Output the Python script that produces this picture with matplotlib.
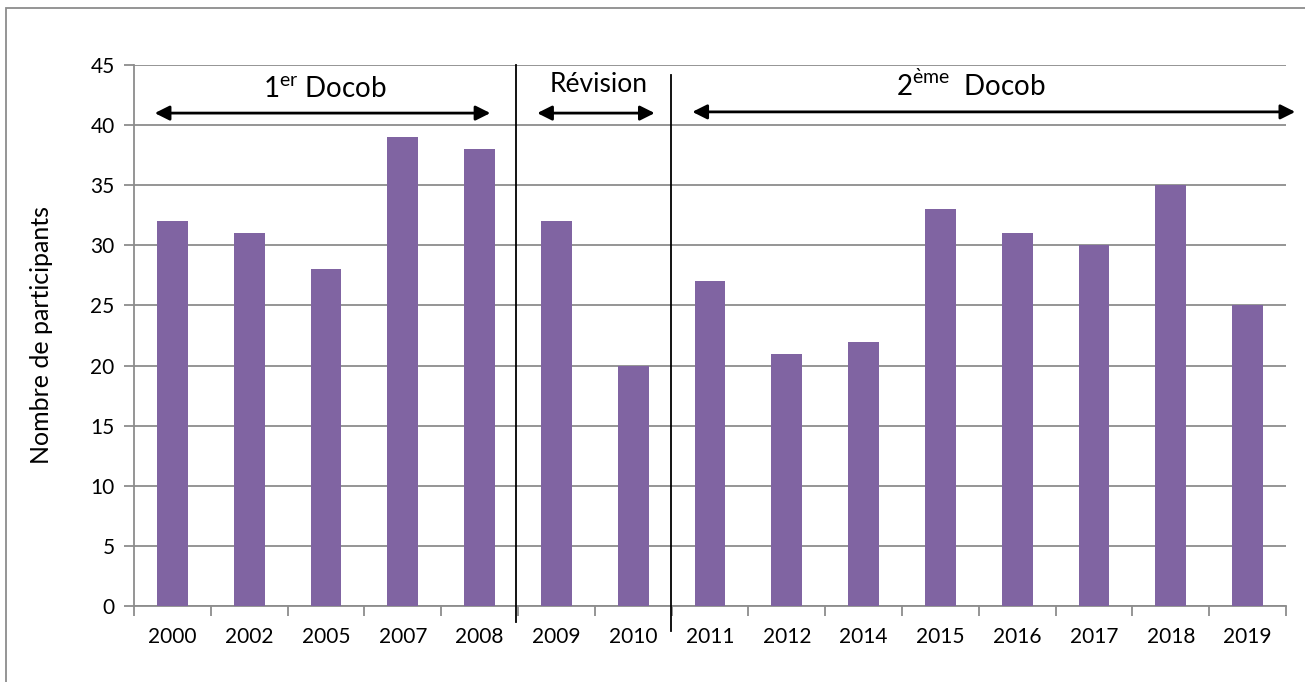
import numpy as np
import matplotlib.pyplot as plt
from matplotlib.patches import Rectangle

years = ["2000", "2002", "2005", "2007", "2008", "2009", "2010", "2011",
         "2012", "2014", "2015", "2016", "2017", "2018", "2019"]
participants = [32, 31, 28, 39, 38, 32, 20, 27, 21, 22, 33, 31, 30, 35, 25]
yticks = [0, 5, 10, 15, 20, 25, 30, 35, 40, 45]

plt.rcParams['font.family'] = ['Lato', 'DejaVu Sans']
plt.rcParams['mathtext.fontset'] = 'custom'
plt.rcParams['mathtext.rm'] = 'Lato'

fig = plt.figure(figsize=(13.05, 6.82), dpi=100)
ax = fig.add_axes([134 / 1305, 1 - 606 / 682, (1286 - 134) / 1305, (606 - 65) / 682])

x = np.arange(len(years))
ax.bar(x, participants, width=0.4, color="#8064A2", zorder=3)

ax.set_xlim(-0.5, len(years) - 0.5)
ax.set_ylim(0, 45)
ax.set_yticks(yticks)
ax.yaxis.grid(True, color="#8c8c8c", linewidth=1.3, zorder=0)

ax.set_xticks(x)
ax.set_xticklabels(years, fontsize=15)
ax.tick_params(axis="x", length=0, pad=15)
ax.set_xticks(np.arange(len(years) + 1) - 0.5, minor=True)
ax.tick_params(axis="x", which="minor", length=7, width=1.3, color="#8c8c8c", direction="out")
ax.tick_params(axis="y", labelsize=15, length=7, width=1.3, color="#8c8c8c", pad=7)

for side in ["top", "right"]:
    ax.spines[side].set_visible(False)
for side in ["left", "bottom"]:
    ax.spines[side].set_color("#8c8c8c")
    ax.spines[side].set_linewidth(1.3)

ax.set_ylabel("Nombre de participants", fontsize=18)
ax.yaxis.set_label_coords(-0.07, 0.5)

# separateurs de periodes
ax.plot([4.47, 4.47], [45, -1.3], color="black", lw=1.3, clip_on=False, zorder=4)
ax.plot([6.49, 6.49], [44.2, -2.1], color="black", lw=1.3, clip_on=False, zorder=4)

# fleches
arrow = dict(arrowstyle="<|-|>", color="black", lw=2, mutation_scale=22, shrinkA=0, shrinkB=0)
ax.annotate("", xy=(-0.23, 41), xytext=(4.14, 41), arrowprops=arrow, annotation_clip=False)
ax.annotate("", xy=(4.75, 41), xytext=(6.28, 41), arrowprops=arrow, annotation_clip=False)
ax.annotate("", xy=(6.77, 41.1), xytext=(14.62, 41.1), arrowprops=arrow, annotation_clip=False)

ax.text(1.98, 42.9, r"1$^{\mathrm{er}}$ Docob", fontsize=20, ha="center", va="center")
ax.text(5.55, 43.4, "Révision", fontsize=19, ha="center", va="center")
ax.text(10.4, 43.3, r"2$^{\mathrm{\`eme}}$  Docob", fontsize=20, ha="center", va="center")

fig.patches.append(Rectangle((6 / 1305, -0.1), 1.2, 1.1 - 8 / 682, transform=fig.transFigure,
                             fill=False, edgecolor="#8c8c8c", lw=1.3))

fig.savefig("out.png", dpi=100)
